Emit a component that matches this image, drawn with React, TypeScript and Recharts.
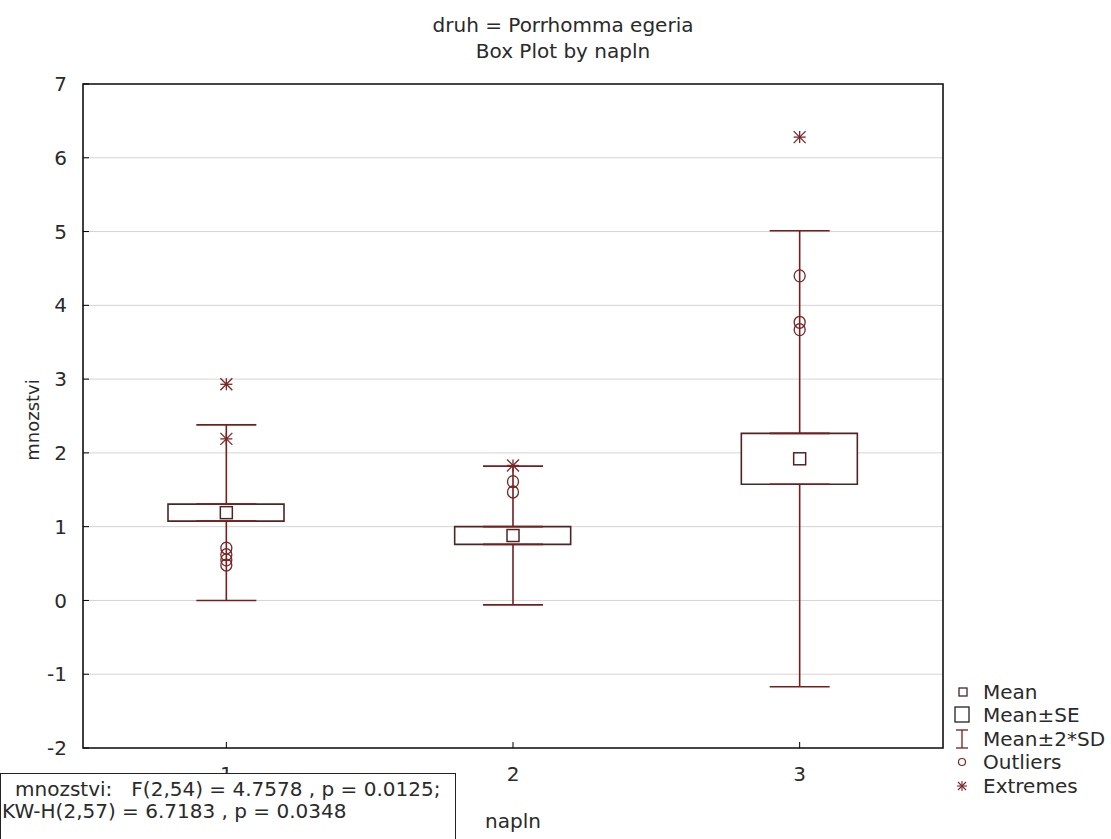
import {
  ComposedChart,
  Bar,
  Scatter,
  ErrorBar,
  XAxis,
  YAxis,
  CartesianGrid,
  ReferenceArea,
  Label,
} from 'recharts'

// Box plot: mnozstvi by napln (druh = Porrhomma egeria)
const categories = ['1', '2', '3']
const means = [1.19, 0.88, 1.92]
const stdErrors = [0.115, 0.12, 0.345]
const twoSd = [1.19, 0.94, 3.09]
const outliers = [[0.71, 0.62, 0.55, 0.48], [1.61, 1.47], [4.4, 3.77, 3.67]]
const extremes = [[2.93, 2.19], [1.83], [6.28]]
const yTicks = [-2, -1, 0, 1, 2, 3, 4, 5, 6, 7]

const FONT = '"DejaVu Sans", "Liberation Sans", Arial, sans-serif'
const TEXT = '#2a2a2a'
const WHISKER = '#731f1f'
const BOX = '#4f2424'
const POINT = '#7a2626'

// whiskers start at the box edges so the box stays clean inside
const boxData = categories.map((napln, i) => ({
  napln,
  mean: means[i],
  se: [means[i] - stdErrors[i], means[i] + stdErrors[i]],
  top: means[i] + stdErrors[i],
  bottom: means[i] - stdErrors[i],
  upErr: [0, twoSd[i] - stdErrors[i]],
  downErr: [twoSd[i] - stdErrors[i], 0],
}))

const outlierData = categories.flatMap((napln, i) => outliers[i].map(value => ({ napln, value })))
const extremeData = categories.flatMap((napln, i) => extremes[i].map(value => ({ napln, value })))

const Empty = () => <g />

const MeanSquare = (props: any) => {
  const { cx, cy } = props
  return <rect x={cx - 6} y={cy - 6} width={12} height={12} fill="#fff" stroke={BOX} strokeWidth={1.5} />
}

const OutlierCircle = (props: any) => {
  const { cx, cy } = props
  return <ellipse cx={cx} cy={cy} rx={5.5} ry={6} fill="none" stroke={POINT} strokeWidth={1.3} />
}

const Asterisk = (props: any) => {
  const { cx, cy } = props
  const r = 6
  return (
    <g stroke={POINT} strokeWidth={1.3}>
      <line x1={cx - r} y1={cy} x2={cx + r} y2={cy} />
      <line x1={cx} y1={cy - r} x2={cx} y2={cy + r} />
      <line x1={cx - r} y1={cy - r} x2={cx + r} y2={cy + r} />
      <line x1={cx - r} y1={cy + r} x2={cx + r} y2={cy - r} />
    </g>
  )
}

const legendItems = [
  { label: 'Mean', icon: <rect x={5} y={7} width={8} height={8} fill="none" stroke={BOX} strokeWidth={1.3} /> },
  { label: 'Mean±SE', icon: <rect x={1} y={3} width={14} height={15} fill="none" stroke="#222" strokeWidth={1.3} /> },
  {
    label: 'Mean±2*SD',
    icon: (
      <g stroke={WHISKER} strokeWidth={1.3}>
        <line x1={2} y1={2} x2={14} y2={2} />
        <line x1={8} y1={2} x2={8} y2={20} />
        <line x1={2} y1={20} x2={14} y2={20} />
      </g>
    ),
  },
  { label: 'Outliers', icon: <circle cx={8} cy={11} r={3.5} fill="none" stroke={POINT} strokeWidth={1.2} /> },
  {
    label: 'Extremes',
    icon: (
      <g stroke={POINT} strokeWidth={1.1}>
        <line x1={3} y1={11} x2={13} y2={11} />
        <line x1={8} y1={6} x2={8} y2={16} />
        <line x1={4} y1={7} x2={12} y2={15} />
        <line x1={4} y1={15} x2={12} y2={7} />
      </g>
    ),
  },
]

export default function App() {
  return (
    <div style={{ position: 'absolute', left: 0, top: 0, width: 1111, height: 839, background: '#fff', fontFamily: FONT }}>
      <ComposedChart
        width={1111}
        height={839}
        data={boxData}
        margin={{ top: 84, right: 168, bottom: 0, left: 0 }}
        style={{ fontFamily: FONT }}
      >
        <CartesianGrid vertical={false} stroke="#d4d4d4" />
        <XAxis
          dataKey="napln"
          type="category"
          allowDuplicatedCategory={false}
          height={91}
          axisLine={false}
          tickLine={{ stroke: '#000' }}
          tickSize={-6}
          tickMargin={25}
          tick={{ fontSize: 20, fill: TEXT }}
        >
          <Label value="napln" position="center" dy={27} style={{ fontSize: 20, fill: TEXT }} />
        </XAxis>
        <YAxis
          type="number"
          domain={[-2, 7]}
          ticks={yTicks}
          width={83}
          axisLine={false}
          tickLine={{ stroke: '#000' }}
          tickSize={-6}
          tickMargin={22}
          tick={{ fontSize: 20, fill: TEXT }}
        >
          <Label value="mnozstvi" angle={-90} position="center" dx={-9} dy={4} style={{ fontSize: 18, fill: TEXT }} />
        </YAxis>
        {/* inner tick marks on the right frame */}
        <YAxis
          yAxisId="right"
          orientation="right"
          type="number"
          domain={[-2, 7]}
          ticks={yTicks}
          width={0}
          axisLine={false}
          tickLine={{ stroke: '#000' }}
          tickSize={-6}
          tick={false}
        />
        <ReferenceArea y1={-2} y2={7} fill="none" stroke="#111" strokeWidth={1.6} />

        {/* whiskers Mean±2*SD */}
        <Scatter data={boxData} dataKey="top" shape={Empty} isAnimationActive={false}>
          <ErrorBar dataKey="upErr" direction="y" width={30} stroke={WHISKER} strokeWidth={1.6} />
        </Scatter>
        <Scatter data={boxData} dataKey="bottom" shape={Empty} isAnimationActive={false}>
          <ErrorBar dataKey="downErr" direction="y" width={30} stroke={WHISKER} strokeWidth={1.6} />
        </Scatter>

        {/* Mean±SE box */}
        <Bar dataKey="se" barSize={116} fill="#fff" stroke={BOX} strokeWidth={1.6} isAnimationActive={false} />

        {/* Mean */}
        <Scatter data={boxData} dataKey="mean" shape={MeanSquare} isAnimationActive={false} />
        {/* Outliers and extremes */}
        <Scatter data={outlierData} dataKey="value" shape={OutlierCircle} isAnimationActive={false} />
        <Scatter data={extremeData} dataKey="value" shape={Asterisk} isAnimationActive={false} />
      </ComposedChart>

      <div style={{ position: 'absolute', left: 0, top: 12, width: 1126, textAlign: 'center', fontSize: 20, lineHeight: '26px', color: TEXT }}>
        <div>druh = Porrhomma egeria</div>
        <div>Box Plot by napln</div>
      </div>

      <div style={{ position: 'absolute', left: 954, top: 680, fontSize: 20, color: TEXT }}>
        {legendItems.map(item => (
          <div key={item.label} style={{ display: 'flex', alignItems: 'center', height: 23.5 }}>
            <svg width={16} height={22} style={{ marginRight: 13 }}>{item.icon}</svg>
            <span>{item.label}</span>
          </div>
        ))}
      </div>

      <div
        style={{
          position: 'absolute',
          left: 0,
          top: 773,
          width: 456,
          height: 70,
          border: '1px solid #222',
          background: '#fff',
          boxSizing: 'border-box',
          fontSize: 20,
          lineHeight: '22px',
          color: TEXT,
          paddingTop: 4,
          whiteSpace: 'pre',
        }}
      >
        <div style={{ paddingLeft: 14 }}>{'mnozstvi:   F(2,54) = 4.7578 , p = 0.0125;'}</div>
        <div style={{ paddingLeft: 1 }}>{'KW-H(2,57) = 6.7183 , p = 0.0348'}</div>
      </div>
    </div>
  )
}
